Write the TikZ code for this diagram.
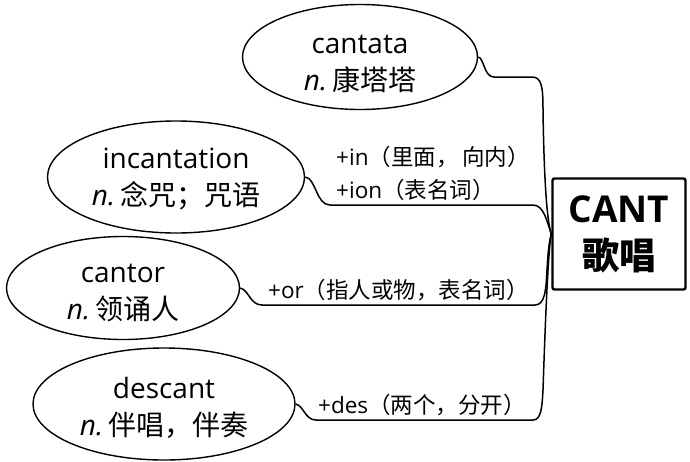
\documentclass[tikz,border=0pt]{standalone}
\usepackage{fontspec}
\setmainfont{Open Sans}
\newfontfamily\cjk{Noto Sans CJK SC}
\tikzset{
  ell/.style={draw=black, line width=1.4pt, ellipse, inner sep=0pt},
  etxt/.style={inner sep=0pt, align=center, font=\fontsize{28}{37}\selectfont},
  lbl/.style={inner sep=0pt, anchor=base west, font=\fontsize{22.5}{33}\selectfont},
  conn/.style={draw=black, line width=1.5pt},
  rootbox/.style={draw=black, line width=2.4pt, rounded corners=2pt, inner sep=0pt,
                  minimum width=133pt, minimum height=111pt, align=center,
                  font=\fontsize{37}{47}\selectfont\bfseries}
}
\usetikzlibrary{shapes.geometric}
\newcommand{\nn}{{\itshape n.}\hspace{0.18em}}
\begin{document}
\begin{tikzpicture}[x=1pt,y=-1pt]
\useasboundingbox (0,0) rectangle (690,461);
\node[rootbox] (root) at (619,234) {CANT\\{\cjk 歌唱}};
\node[ell, minimum width=235pt, minimum height=105pt] (cantata) at (360,57) {};
\node[ell, minimum width=257pt, minimum height=112pt] (incant) at (176,177) {};
\node[ell, minimum width=233pt, minimum height=103pt] (cantor) at (123,288) {};
\node[ell, minimum width=262pt, minimum height=112pt] (descant) at (164,404) {};
\node[etxt] (cantataT) at ([yshift=-6.5pt]cantata.center) {cantata\\\nn{\cjk 康塔塔}};
\node[etxt] (incantT) at ([yshift=-1.5pt]incant.center) {incantation\\\nn{\cjk 念咒；咒语}};
\node[etxt] (cantorT) at ([yshift=-5pt]cantor.center) {cantor\\\nn{\cjk 领诵人}};
\node[etxt] (descantT) at ([yshift=-4pt]descant.center) {descant\\\nn{\cjk 伴唱，伴奏}};
\node[lbl] (l1a) at (336,165) {+in{\cjk （里面，\,向内）}};
\node[lbl] (l1b) at (336,198) {+ion{\cjk （表名词）}};
\node[lbl] (l2) at (268,298) {+or{\cjk （指人或物，表名词）}};
\node[lbl] (l3) at (318,413) {+des{\cjk （两个，分开）}};
\draw[conn] (cantata.east) .. controls (484,58) and (484,77) .. (494,77) -- (532,77)
  .. controls (542,77) and (543,88) .. (543,110) .. controls (544,180) and (547,222) .. (root.west);
\draw[conn] (incant.east) .. controls (316,178) and (316,205) .. (330,205) -- (533,205)
  .. controls (544,205) and (547,222) .. (root.west);
\draw[conn] (cantor.east) .. controls (249,290) and (250,305) .. (262,305) -- (535,305)
  .. controls (545,305) and (546,290) .. (547,270) .. controls (548,252) and (549,242) .. (root.west);
\draw[conn] (descant.east) .. controls (304,406) and (305,420) .. (316,420) -- (533,420)
  .. controls (541,420) and (542,408) .. (543,390) .. controls (545,330) and (548,250) .. (root.west);
\end{tikzpicture}
\end{document}
